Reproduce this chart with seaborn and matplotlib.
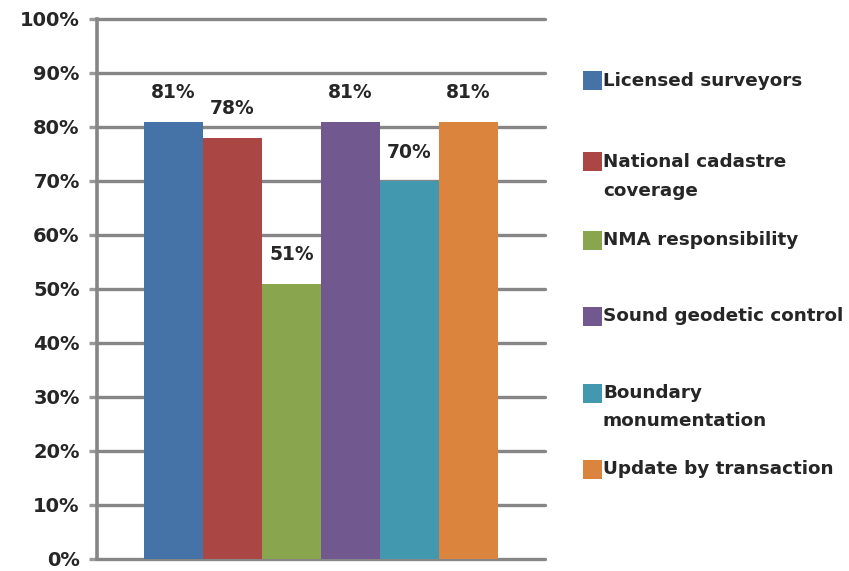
import matplotlib
matplotlib.use("Agg")
import matplotlib.pyplot as plt
from matplotlib.patches import Rectangle
import seaborn as sns
import pandas as pd

# Survey results: share of respondents per cadastral topic
series = [
    "Licensed surveyors",
    "National cadastre coverage",
    "NMA responsibility",
    "Sound geodetic control",
    "Boundary monumentation",
    "Update by transaction",
]
legend_labels = [
    "Licensed surveyors",
    "National cadastre\ncoverage",
    "NMA responsibility",
    "Sound geodetic control",
    "Boundary\nmonumentation",
    "Update by transaction",
]
values = [81, 78, 51, 81, 70, 81]
colors = ["#4572A7", "#AA4643", "#89A54E", "#71588F", "#4198AF", "#DB843D"]
yticks = [0, 10, 20, 30, 40, 50, 60, 70, 80, 90, 100]

df = pd.DataFrame({"group": ["all"] * len(series), "series": series, "value": values})

sns.set_theme(style="white")
plt.rcParams["font.family"] = ["DejaVu Sans"]
plt.rcParams["font.weight"] = "bold"

fig = plt.figure(figsize=(8.49, 5.71), dpi=100)
ax = fig.add_axes([97 / 849, 12 / 571, 448 / 849, 540 / 571])

sns.barplot(data=df, x="group", y="value", hue="series", hue_order=series,
            palette=colors, width=0.79, saturation=1, legend=False,
            linewidth=0, edgecolor="none", ax=ax)

grid_color = "#868686"
ax.set_ylim(0, 100)
ax.set_xlim(-0.5, 0.5)
ax.set_yticks(yticks)
ax.set_yticklabels([f"{t}%" for t in yticks], fontsize=14, fontweight="bold")
ax.set_xticks([])
ax.set_xlabel("")
ax.set_ylabel("")
ax.yaxis.grid(True, color=grid_color, linewidth=2.4)
ax.set_axisbelow(True)
for gl in ax.get_ygridlines():
    gl.set_clip_on(False)
for side in ["top", "right", "bottom"]:
    ax.spines[side].set_visible(False)
ax.spines["left"].set_color(grid_color)
ax.spines["left"].set_linewidth(2.6)
ax.tick_params(axis="y", left=True, length=6, width=2.4, color="#9a9a9a", pad=6.5)

# value labels above each bar
for bar, v in zip(ax.patches, values):
    ax.annotate(f"{v}%", (bar.get_x() + bar.get_width() / 2, v),
                xytext=(0, 29), textcoords="offset pixels",
                ha="center", va="center", fontsize=13.5, fontweight="bold")

# legend: colored squares with labels on the right
legend_y = [81, 162, 240, 316, 393, 469]
for lab, col, yc in zip(legend_labels, colors, legend_y):
    fig.patches.append(Rectangle((583 / 849, 1 - (yc + 9.5) / 571), 19 / 849, 19 / 571,
                                 transform=fig.transFigure, facecolor=col, edgecolor="none"))
    fig.text(603 / 849, 1 - (yc - 9) / 571, lab, ha="left", va="top",
             fontsize=13.2, fontweight="bold", linespacing=1.75)

fig.savefig("out.png", dpi=100)
